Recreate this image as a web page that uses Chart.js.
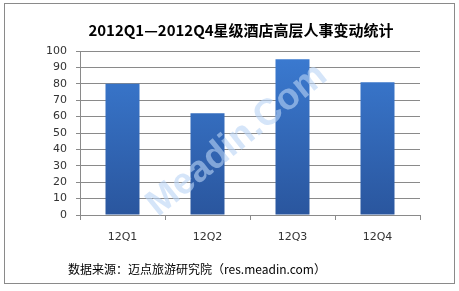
<!DOCTYPE html>
<html>
<head>
<meta charset="utf-8">
<script src="https://cdn.jsdelivr.net/npm/chart.js@4"></script>
<style>
  html, body { margin: 0; padding: 0; background: #fff; }
  #wrap { width: 459px; height: 291px; position: relative; }
</style>
</head>
<body>
<div id="wrap"><canvas id="chart"></canvas></div>
<script>
// chart data
const titleText = '2012Q1\u20142012Q4星级酒店高层人事变动统计';
const sourceText = '数据来源：迈点旅游研究院（res.meadin.com）';
const quarters = ['12Q1', '12Q2', '12Q3', '12Q4'];
const changes = [80, 62, 95, 81];
const yTicks = [0, 10, 20, 30, 40, 50, 60, 70, 80, 90, 100];

// frame, title, source line and watermark
const decorations = {
    id: 'decorations',
    beforeDraw(chart) {
        const ctx = chart.ctx;
        ctx.save();
        ctx.fillStyle = '#fff';
        ctx.fillRect(0, 0, chart.width, chart.height);
        ctx.strokeStyle = '#8a8a8a';
        ctx.lineWidth = 1;
        ctx.strokeRect(4.5, 3.5, 450, 280);
        ctx.fillStyle = '#000';
        ctx.textAlign = 'center';
        ctx.textBaseline = 'middle';
        ctx.font = 'bold 15px "Noto Sans CJK SC", sans-serif';
        ctx.fillText(titleText, 241, 30);
        ctx.textAlign = 'left';
        ctx.font = '12px "Noto Sans CJK SC", sans-serif';
        ctx.fillText(sourceText, 68, 269);
        ctx.restore();
    },
    afterDatasetsDraw(chart) {
        const ctx = chart.ctx;
        ctx.save();
        ctx.translate(237, 140);
        ctx.rotate(-39 * Math.PI / 180);
        ctx.font = 'bold 37px "Liberation Sans", Arial, sans-serif';
        ctx.textAlign = 'center';
        ctx.textBaseline = 'middle';
        ctx.fillStyle = 'rgba(185, 212, 245, 0.6)';
        ctx.fillText('Meadin.Com', 0, 0);
        ctx.restore();
    }
};

function barGradient(context) {
    const area = context.chart.chartArea;
    if (!area) return '#3670c0';
    const g = context.chart.ctx.createLinearGradient(0, area.top, 0, area.bottom);
    g.addColorStop(0, '#3b7bd2');
    g.addColorStop(1, '#2a569e');
    return g;
}

new Chart(document.getElementById('chart'), {
    type: 'bar',
    data: {
        labels: quarters,
        datasets: [{
            data: changes,
            backgroundColor: barGradient,
            borderWidth: 0,
            barPercentage: 0.4,
            categoryPercentage: 1
        }]
    },
    options: {
        responsive: true,
        maintainAspectRatio: false,
        animation: false,
        layout: { padding: { left: 0, right: 39, top: 51, bottom: 0 } },
        plugins: {
            legend: { display: false },
            tooltip: { enabled: false }
        },
        scales: {
            x: {
                afterFit(scale) { scale.height = 76; },
                grid: { drawOnChartArea: false, drawTicks: true, tickLength: 5, color: '#8a8a8a' },
                border: { color: '#8a8a8a' },
                ticks: { color: '#333', padding: 11, font: { family: 'DejaVu Sans', size: 11 } }
            },
            y: {
                min: 0,
                max: 100,
                afterFit(scale) { scale.width = 80; },
                afterBuildTicks(scale) { scale.ticks = yTicks.map(v => ({ value: v })); },
                grid: { color: '#8a8a8a', tickLength: 4 },
                border: { color: '#8a8a8a' },
                ticks: { color: '#333', padding: 9, font: { family: 'DejaVu Sans', size: 11 } }
            }
        }
    },
    plugins: [decorations]
});
</script>
</body>
</html>
